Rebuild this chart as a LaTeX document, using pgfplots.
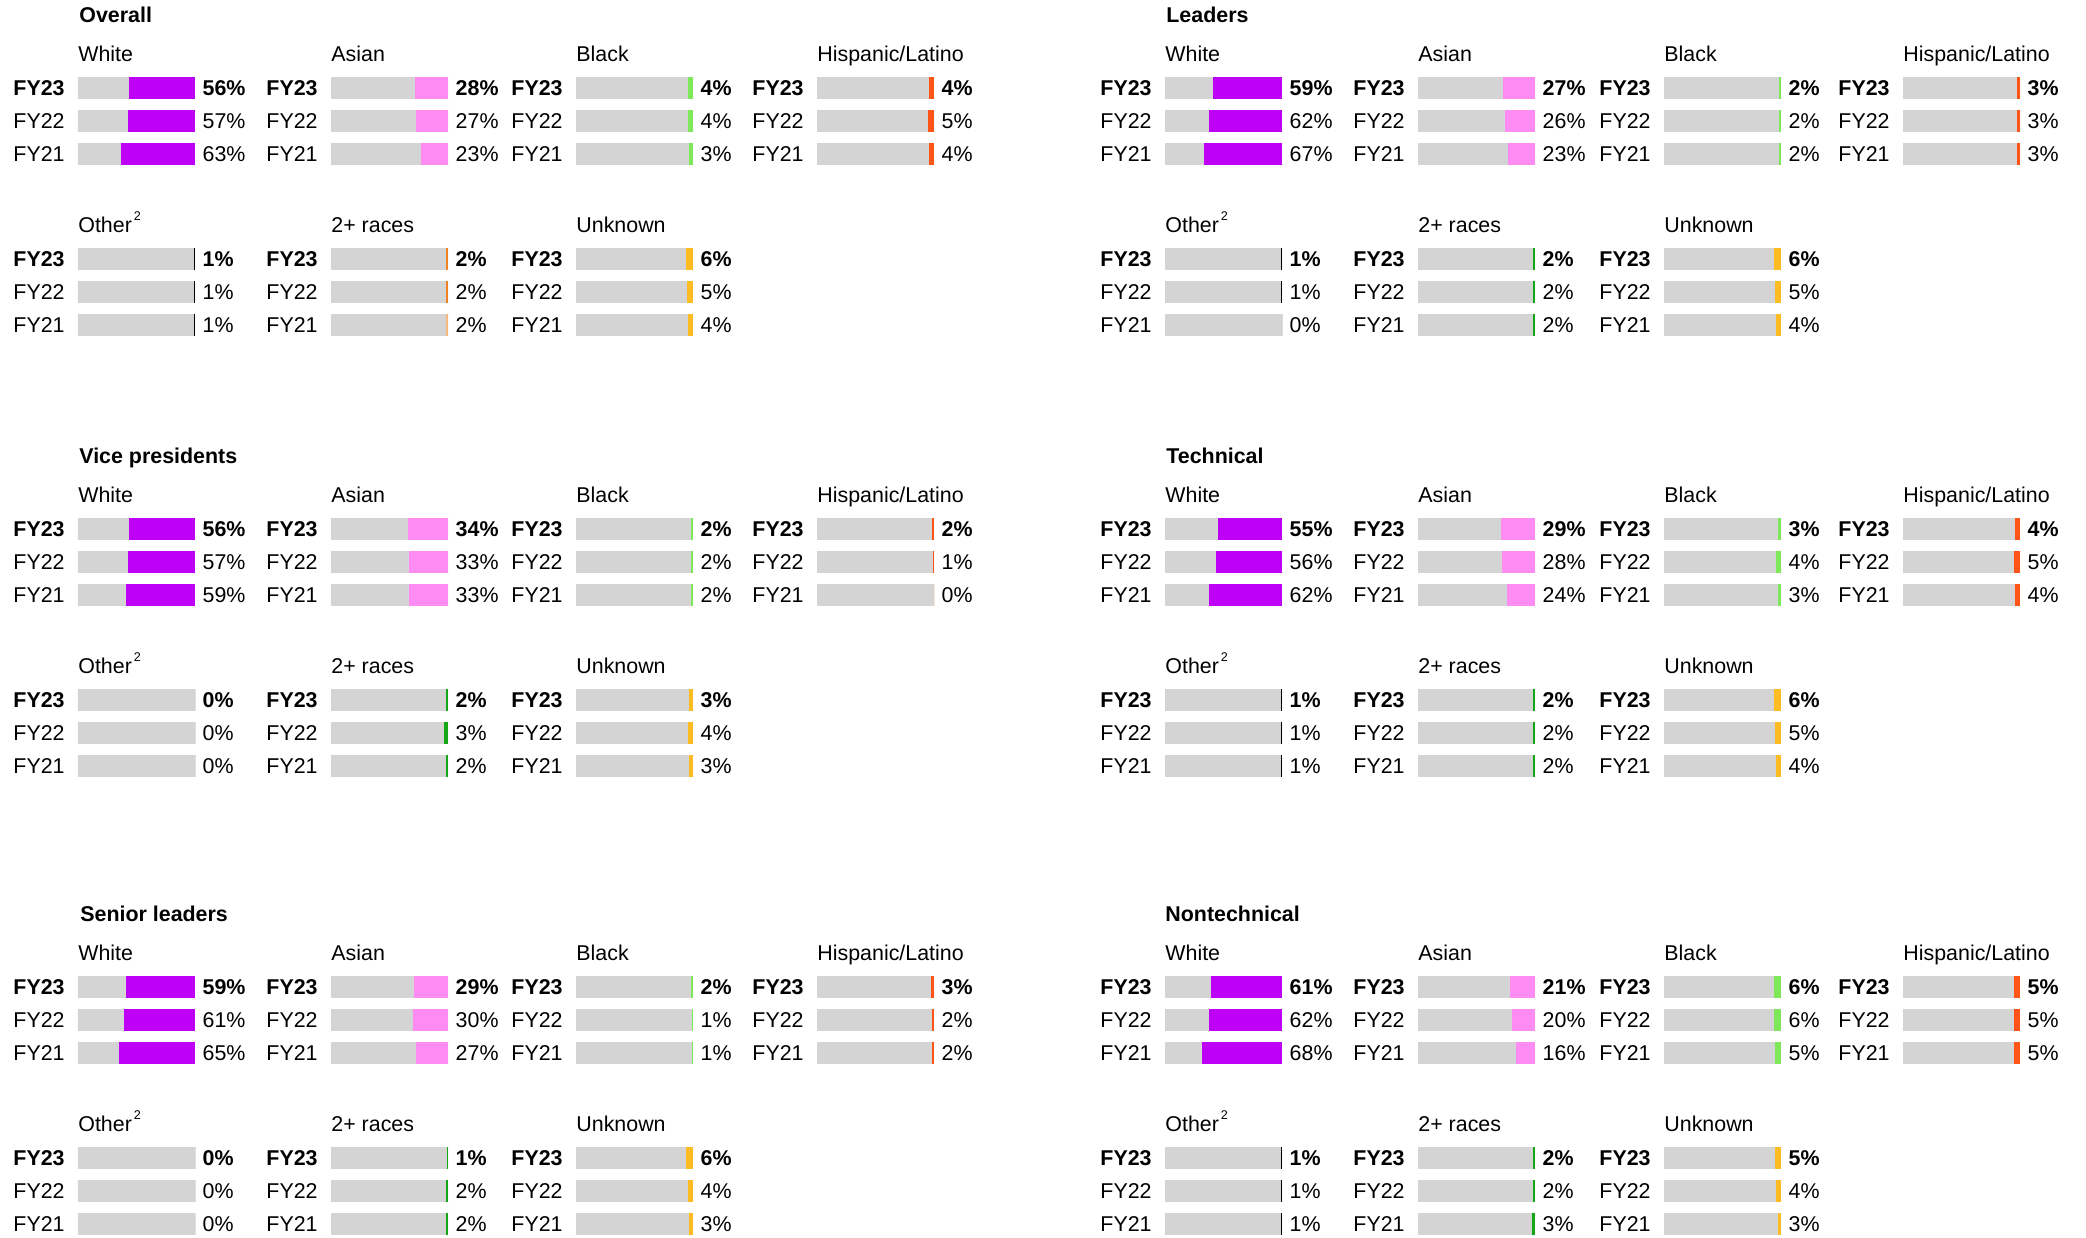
\documentclass[border=0pt]{standalone}
\usepackage{pgfplots}
\pgfplotsset{compat=1.18}
\usepackage{fontspec}
\setmainfont{Liberation Sans}
\definecolor{barbg}{HTML}{D4D4D4}
\definecolor{cwhite}{HTML}{BE00F6}
\definecolor{casian}{HTML}{FF8CF2}
\definecolor{cblack}{HTML}{7CE85A}
\definecolor{chisp}{HTML}{FF5418}
\definecolor{cother}{HTML}{000000}
\definecolor{ctwo}{HTML}{14A614}
\definecolor{ctwoO}{HTML}{F08224}
\definecolor{ctwoL}{HTML}{F8BA7A}
\definecolor{cunk}{HTML}{FFBB22}
\pgfplotsset{
  mini/.style={anchor=north west, scale only axis, width=58.5pt, height=49.5pt,
    xmin=0, xmax=100, ymin=-0.5, ymax=2.5, x dir=reverse, y dir=reverse,
    axis line style={draw=none}, ticks=none, clip=false, bar width=10.85pt,
    every axis title/.style={at={(0,1)}, anchor=base west, inner sep=0pt, yshift=5.25pt}},
  bgbar/.style={xbar, bar shift=0pt, fill=barbg, draw=none, nodes near coords,
    point meta=explicit symbolic,
    every node near coord/.style={anchor=east, inner sep=0pt, xshift=-6.5pt}},
  colbar/.style={xbar, bar shift=0pt, draw=none},
  pctlab/.style={xbar, bar shift=0pt, fill=none, draw=none, nodes near coords,
    point meta=explicit symbolic,
    every node near coord/.style={anchor=west, inner sep=0pt, xshift=3.65pt}},
}
\newcommand{\minic}[9]{%
\begin{axis}[mini, at={(#1pt,-#2pt)}, title={#3}]
\addplot[bgbar] coordinates {(100,0)[\textbf{FY23}] (100,1)[FY22] (100,2)[FY21]};
\addplot[colbar, fill=#4] coordinates {(#7,0)};
\addplot[colbar, fill=#5] coordinates {(#8,1)};
\addplot[colbar, fill=#6] coordinates {(#9,2)};
\addplot[pctlab] coordinates {(0,0)[\textbf{#7\%}] (0,1)[#8\%] (0,2)[#9\%]};
\end{axis}}
\newcommand{\mini}[7]{\minic{#1}{#2}{#3}{#4}{#4}{#4}{#5}{#6}{#7}}
\newcommand{\sect}[3]{\node[anchor=base west, inner sep=0pt, font=\bfseries] at (#1pt,-#2pt) {#3};}
\newcommand{\other}{Other\hspace{1pt}\raisebox{6pt}{\fontsize{6.3}{7}\selectfont 2}}
\begin{document}
\fontsize{10.7}{12.8}\selectfont
\begin{tikzpicture}
\useasboundingbox (0,0) rectangle (1043pt,-618.5pt);
% Overall
\sect{39.5}{11.35}{Overall}
\mini{39}{35.75}{White}{cwhite}{56}{57}{63}
\mini{165.5}{35.75}{Asian}{casian}{28}{27}{23}
\mini{288}{35.75}{Black}{cblack}{4}{4}{3}
\mini{408.5}{35.75}{Hispanic/Latino}{chisp}{4}{5}{4}
\mini{39}{121.25}{\other}{cother}{1}{1}{1}
\minic{165.5}{121.25}{2+ races}{ctwoO}{ctwoO}{ctwoL}{2}{2}{2}
\mini{288}{121.25}{Unknown}{cunk}{6}{5}{4}
% Leaders
\sect{583}{11.35}{Leaders}
\mini{582.5}{35.75}{White}{cwhite}{59}{62}{67}
\mini{709}{35.75}{Asian}{casian}{27}{26}{23}
\mini{832}{35.75}{Black}{cblack}{2}{2}{2}
\mini{951.5}{35.75}{Hispanic/Latino}{chisp}{3}{3}{3}
\mini{582.5}{121.25}{\other}{cother}{1}{1}{0}
\mini{709}{121.25}{2+ races}{ctwo}{2}{2}{2}
\mini{832}{121.25}{Unknown}{cunk}{6}{5}{4}
% Vice presidents
\sect{39.5}{231.85}{Vice presidents}
\mini{39}{256.25}{White}{cwhite}{56}{57}{59}
\mini{165.5}{256.25}{Asian}{casian}{34}{33}{33}
\mini{288}{256.25}{Black}{cblack}{2}{2}{2}
\mini{408.5}{256.25}{Hispanic/Latino}{chisp}{2}{1}{0}
\mini{39}{341.75}{\other}{cother}{0}{0}{0}
\mini{165.5}{341.75}{2+ races}{ctwo}{2}{3}{2}
\mini{288}{341.75}{Unknown}{cunk}{3}{4}{3}
% Technical
\sect{583}{231.85}{Technical}
\mini{582.5}{256.25}{White}{cwhite}{55}{56}{62}
\mini{709}{256.25}{Asian}{casian}{29}{28}{24}
\mini{832}{256.25}{Black}{cblack}{3}{4}{3}
\mini{951.5}{256.25}{Hispanic/Latino}{chisp}{4}{5}{4}
\mini{582.5}{341.75}{\other}{cother}{1}{1}{1}
\mini{709}{341.75}{2+ races}{ctwo}{2}{2}{2}
\mini{832}{341.75}{Unknown}{cunk}{6}{5}{4}
% Senior leaders
\sect{40}{460.85}{Senior leaders}
\mini{39}{485.25}{White}{cwhite}{59}{61}{65}
\mini{165.5}{485.25}{Asian}{casian}{29}{30}{27}
\mini{288}{485.25}{Black}{cblack}{2}{1}{1}
\mini{408.5}{485.25}{Hispanic/Latino}{chisp}{3}{2}{2}
\mini{39}{570.75}{\other}{cother}{0}{0}{0}
\mini{165.5}{570.75}{2+ races}{ctwo}{1}{2}{2}
\mini{288}{570.75}{Unknown}{cunk}{6}{4}{3}
% Nontechnical
\sect{582.5}{460.85}{Nontechnical}
\mini{582.5}{485.25}{White}{cwhite}{61}{62}{68}
\mini{709}{485.25}{Asian}{casian}{21}{20}{16}
\mini{832}{485.25}{Black}{cblack}{6}{6}{5}
\mini{951.5}{485.25}{Hispanic/Latino}{chisp}{5}{5}{5}
\mini{582.5}{570.75}{\other}{cother}{1}{1}{1}
\mini{709}{570.75}{2+ races}{ctwo}{2}{2}{3}
\mini{832}{570.75}{Unknown}{cunk}{5}{4}{3}
\end{tikzpicture}
\end{document}
